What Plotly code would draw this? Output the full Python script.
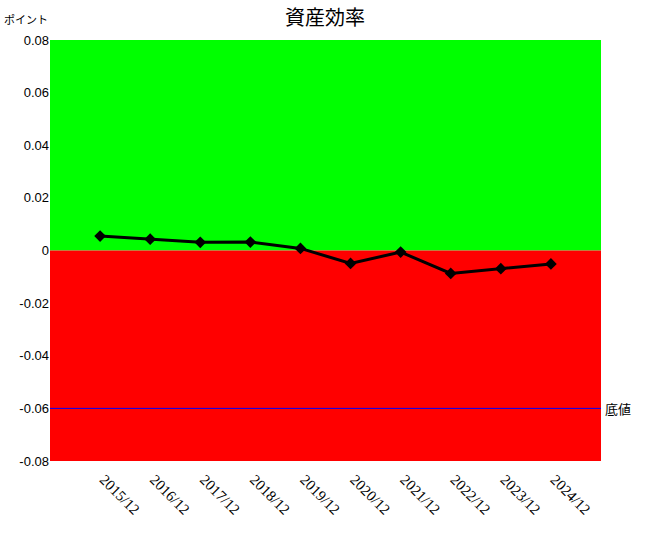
import plotly.graph_objects as go

categories = ["2015/12", "2016/12", "2017/12", "2018/12", "2019/12",
              "2020/12", "2021/12", "2022/12", "2023/12", "2024/12"]
values = [0.0055, 0.0043, 0.0031, 0.0032, 0.0008,
          -0.0049, -0.0006, -0.0087, -0.0069, -0.0051]
bottom_value = -0.06
y_ticks = [0.08, 0.06, 0.04, 0.02, 0, -0.02, -0.04, -0.06, -0.08]
y_tick_labels = ["0.08", "0.06", "0.04", "0.02", "0", "-0.02", "-0.04", "-0.06", "-0.08"]

fig = go.Figure()
fig.add_trace(go.Scatter(
    x=list(range(len(categories))), y=values, mode="lines+markers",
    line=dict(color="black", width=3),
    marker=dict(symbol="diamond", size=9, color="black"),
    showlegend=False, hoverinfo="skip",
))

fig.add_shape(type="rect", xref="paper", yref="y", x0=0, x1=1, y0=0, y1=0.08,
              fillcolor="#00ff00", line=dict(width=0), layer="below")
fig.add_shape(type="rect", xref="paper", yref="y", x0=0, x1=1, y0=-0.08, y1=0,
              fillcolor="#ff0000", line=dict(width=0), layer="below")
fig.add_shape(type="line", xref="paper", yref="y", x0=0, x1=1, y0=bottom_value, y1=bottom_value,
              line=dict(color="blue", width=1))

fig.add_annotation(text="底値", xref="paper", yref="y", x=1, y=bottom_value,
                   xanchor="left", xshift=2, showarrow=False,
                   font=dict(family="Noto Sans CJK JP", size=13, color="black"))
fig.add_annotation(text="ポイント", xref="paper", yref="paper", x=-48/551, y=1,
                   xanchor="left", yanchor="middle", yshift=21, showarrow=False,
                   font=dict(family="Noto Sans CJK JP", size=11, color="black"))

fig.update_layout(
    width=650, height=540,
    margin=dict(l=50, r=49, t=40, b=79, autoexpand=False),
    paper_bgcolor="white", plot_bgcolor="white",
    title=dict(text="資産効率", x=0.5, xanchor="center", y=1 - 18 / 540, yanchor="middle",
               font=dict(family="Noto Sans CJK JP", size=20, color="black")),
    xaxis=dict(range=[-1, len(categories)], tickmode="array",
               tickvals=list(range(len(categories))), ticktext=categories,
               tickangle=45, showgrid=False, zeroline=False, showline=False,
               automargin=False, ticklabelstandoff=6, ticklabelshift=4,
               tickfont=dict(family="Liberation Serif", size=15, color="black")),
    yaxis=dict(range=[-0.08, 0.08], tickmode="array", tickvals=y_ticks,
               ticktext=y_tick_labels, showgrid=False, zeroline=False, showline=False,
               automargin=False,
               tickfont=dict(family="Liberation Sans", size=13, color="black")),
)

fig.write_html("out.html", post_script="document.body.style.margin='0';",
               config={"displayModeBar": False})
